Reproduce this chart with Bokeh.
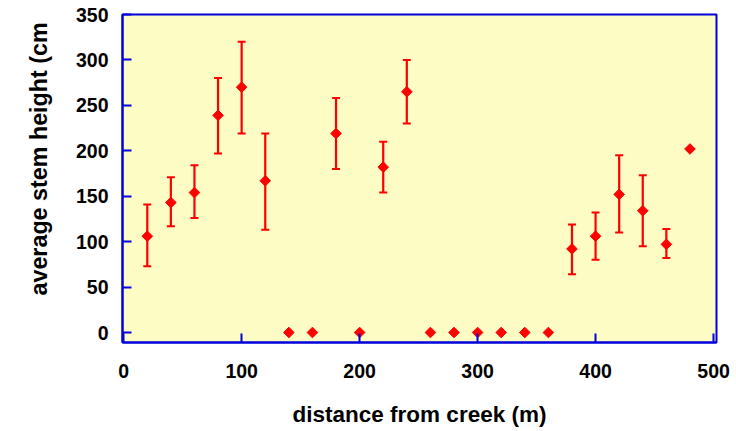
import math
from bokeh.plotting import figure
from bokeh.models import ColumnDataSource, Whisker, TeeHead, Title, FixedTicker, Range1d
from bokeh.embed import file_html
from bokeh.resources import INLINE

distance = [20, 40, 60, 80, 100, 120, 140, 160, 180, 200, 220, 240,
            260, 280, 300, 320, 340, 360, 380, 400, 420, 440, 460, 480]
mean_height = [106, 143, 154, 239, 270, 167, 0, 0, 219, 0, 182, 265,
               0, 0, 0, 0, 0, 0, 92, 106, 152, 134, 97, 202]
upper_err = [141, 171, 184, 280, 320, 219, 0, 0, 258, 0, 210, 300,
             0, 0, 0, 0, 0, 0, 119, 132, 195, 173, 114, 202]
lower_err = [73, 117, 126, 197, 219, 113, 0, 0, 180, 0, 154, 230,
             0, 0, 0, 0, 0, 0, 64, 80, 110, 95, 82, 202]
x_ticks = [0, 100, 200, 300, 400, 500]
y_ticks = [0, 50, 100, 150, 200, 250, 300, 350]

FONT = "Liberation Sans"
BLUE = "#0000DD"
RED = "#FF0000"

p = figure(width=736, height=431, output_backend="svg", toolbar_location=None,
           x_range=Range1d(-1, 502.5), y_range=Range1d(-11, 350),
           min_border_left=122, min_border_right=20, min_border_top=14, min_border_bottom=89)
p.background_fill_color = "#FCFCC4"
p.border_fill_color = "white"
p.outline_line_color = BLUE
p.outline_line_width = 2
p.xgrid.visible = False
p.ygrid.visible = False

for ax in (p.xaxis[0], p.yaxis[0]):
    ax.axis_line_color = BLUE
    ax.axis_line_width = 2
    ax.major_tick_line_color = BLUE
    ax.major_tick_line_width = 2
    ax.major_tick_in = 9
    ax.major_tick_out = 0
    ax.minor_tick_line_color = None
    ax.major_label_text_font = FONT
    ax.major_label_text_font_style = "bold"
    ax.major_label_text_font_size = "19.5px"
    ax.major_label_text_color = "black"

p.xaxis.ticker = FixedTicker(ticks=x_ticks)
p.yaxis.ticker = FixedTicker(ticks=y_ticks)
p.xaxis.major_label_standoff = 21
p.yaxis.major_label_standoff = 14

p.xaxis.axis_label = "distance from creek (m)"
p.xaxis.axis_label_text_font = FONT
p.xaxis.axis_label_text_font_style = "bold"
p.xaxis.axis_label_text_font_size = "22.5px"
p.xaxis.axis_label_text_color = "black"
p.xaxis.axis_label_standoff = 21

ytitle = Title(text="average stem height (cm", align="left", offset=47,
               standoff=42, text_font=FONT, text_font_style="bold",
               text_font_size="23.3px", text_color="black")
p.add_layout(ytitle, "left")

idx = [i for i in range(len(distance)) if upper_err[i] != lower_err[i]]
err_src = ColumnDataSource(data=dict(
    x=[distance[i] for i in idx],
    upper=[upper_err[i] for i in idx],
    lower=[lower_err[i] for i in idx],
))
whisk = Whisker(source=err_src, base="x", upper="upper", lower="lower",
                line_color=RED, line_width=2.2,
                upper_head=TeeHead(size=8, line_color=RED, line_width=2),
                lower_head=TeeHead(size=8, line_color=RED, line_width=2))
p.add_layout(whisk)

src = ColumnDataSource(data=dict(x=distance, y=mean_height))
p.scatter("x", "y", source=src, marker="square", size=7.5, angle=math.pi / 4,
          fill_color=RED, line_color=RED, line_width=1)

open("out.html", "w").write(file_html(p, INLINE))
